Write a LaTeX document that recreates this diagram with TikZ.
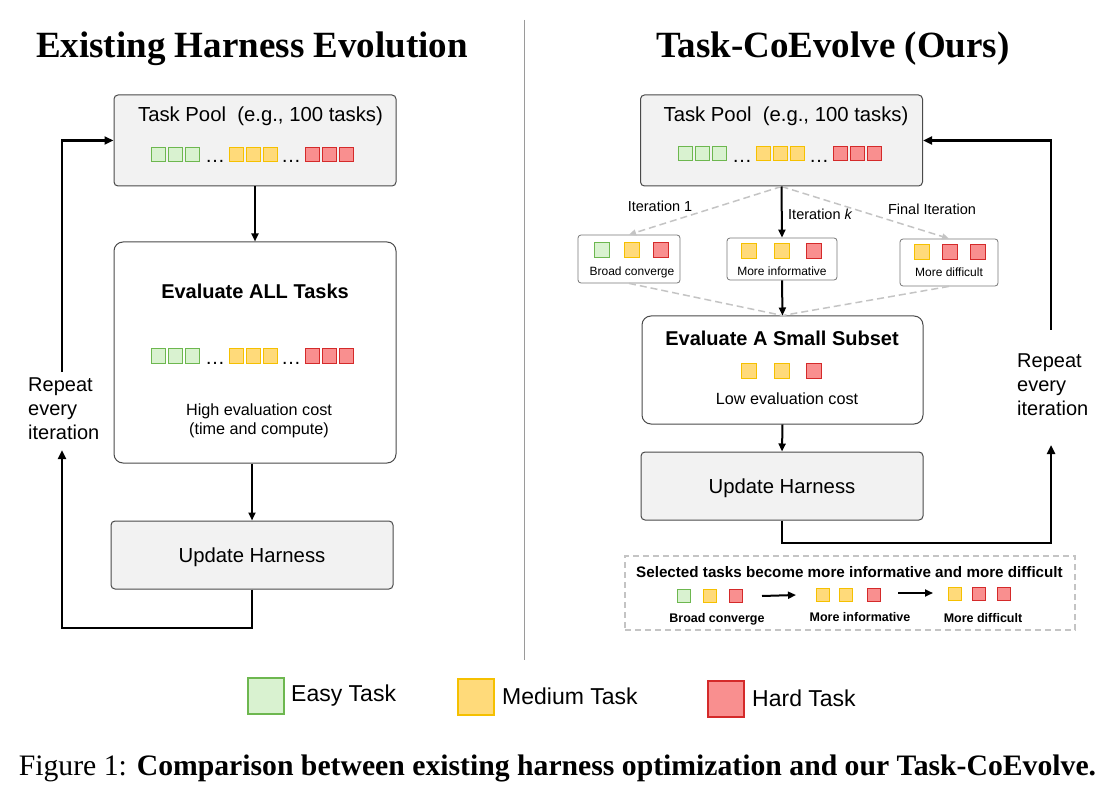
\documentclass[tikz,border=0pt]{standalone}
\usepackage{fontspec}
\setmainfont{Liberation Serif}
\setsansfont{Liberation Sans}
\usetikzlibrary{arrows.meta}
\definecolor{easyfill}{HTML}{D9F2D0}
\definecolor{easydraw}{HTML}{6DB74F}
\definecolor{medfill}{HTML}{FFDA7A}
\definecolor{meddraw}{HTML}{F5C000}
\definecolor{hardfill}{HTML}{F98F8F}
\definecolor{harddraw}{HTML}{D42A2A}
\definecolor{boxgray}{HTML}{F2F2F2}
\definecolor{boxline}{HTML}{4A4A4A}
\definecolor{dashgray}{HTML}{C4C4C4}
\definecolor{divgray}{HTML}{9A9A9A}
\newcommand{\myfs}[2]{\fontsize{#1}{#2}\selectfont}
\begin{document}
\begin{tikzpicture}[x=1pt,y=-1pt,
  every node/.style={inner sep=0pt, font=\sffamily},
  box/.style={draw=boxline, line width=1pt, rounded corners=4pt},
  graybox/.style={box, fill=boxgray},
  whitebox/.style={box, fill=white, rounded corners=9pt},
  smallbox/.style={draw=boxline!75, line width=0.8pt, rounded corners=3pt, fill=white},
  easy/.style={draw=easydraw, fill=easyfill, line width=1pt, minimum size=14pt},
  med/.style={draw=meddraw, fill=medfill, line width=1pt, minimum size=14pt},
  hard/.style={draw=harddraw, fill=hardfill, line width=1pt, minimum size=14pt},
  arr/.style={draw=black, line width=2pt, -{Triangle[length=8pt,width=7pt]}},
  looparr/.style={draw=black, line width=2.5pt, -{Triangle[length=9pt,width=8pt]}},
  dasharr/.style={draw=dashgray, line width=1.5pt, dash pattern=on 7pt off 4pt, -{Triangle[length=7pt,width=6pt]}},
  dashline/.style={draw=dashgray, line width=1.5pt, dash pattern=on 7pt off 4pt},
  titlefont/.style={font=\rmfamily\bfseries\myfs{37}{40}},
  boxtext/.style={font=\sffamily\myfs{20.3}{24}},
  boldtext/.style={font=\sffamily\bfseries\myfs{20}{24}},
  midtext/.style={font=\sffamily\myfs{16.2}{19}},
  smalltext/.style={font=\sffamily\myfs{12}{14}},
  itertext/.style={font=\sffamily\myfs{14.5}{17}},
  dotstext/.style={font=\sffamily\myfs{20}{24}},
  reptext/.style={font=\sffamily\myfs{20}{24}, align=left, anchor=north west},
]
\path[use as bounding box] (0,0) rectangle (1114,794);

% titles and divider
\node[titlefont, anchor=base] (ltitle) at (252,58) {Existing Harness Evolution};
\node[titlefont, anchor=base] (rtitle) at (833,58) {Task-CoEvolve (Ours)};
\draw[divgray, line width=1pt] (524,20) -- (524,660);

% ================= LEFT =================
\node[graybox, minimum width=282pt, minimum height=91pt] (lpool) at (255,140.5) {};
\node[boxtext, anchor=base] (lpoolt) at (260.5,122) {Task Pool\ \ (e.g., 100 tasks)};
\foreach \x [count=\i] in {158.5,175.5,192.5} \node[easy] (lpe\i) at (\x,154.5) {};
\foreach \x [count=\i] in {236.5,253.5,270.5} \node[med] (lpm\i) at (\x,154.5) {};
\foreach \x [count=\i] in {312.5,329.5,346.5} \node[hard] (lph\i) at (\x,154.5) {};
\node[dotstext, anchor=base] (lpd1) at (215,163) {…};
\node[dotstext, anchor=base] (lpd2) at (291,163) {…};

\node[whitebox, minimum width=282pt, minimum height=221pt] (leval) at (255,352.5) {};
\node[boldtext, anchor=base] (levalt) at (255,299) {Evaluate ALL Tasks};
\foreach \x [count=\i] in {158.5,175.5,192.5} \node[easy] (lee\i) at (\x,356) {};
\foreach \x [count=\i] in {236.5,253.5,270.5} \node[med] (lem\i) at (\x,356) {};
\foreach \x [count=\i] in {312.5,329.5,346.5} \node[hard] (leh\i) at (\x,356) {};
\node[dotstext, anchor=base] (led1) at (215,364) {…};
\node[dotstext, anchor=base] (led2) at (291,364) {…};
\node[midtext, anchor=base] (lcost1) at (259,415) {High evaluation cost};
\node[midtext, anchor=base] (lcost2) at (259,434.5) {(time and compute)};

\node[graybox, minimum width=282pt, minimum height=68pt] (lupd) at (252,555) {};
\node[boxtext, anchor=base] (lupdt) at (252,562) {Update Harness};

\draw[arr] (lpool.south) -- (leval.north);
\draw[arr] (leval.south -| lupd.north) -- (lupd.north);

\coordinate (lc2) at (62,628);
\coordinate (lc3) at (62,450);
\coordinate (lc4) at (62,372);
\draw[looparr] (lupd.south) |- (lc2) -- (lc3);
\draw[looparr] (lc4) |- (lpool.west);
\node[reptext] (lrep) at (28,378) {Repeat\\every\\iteration};

% ================= RIGHT =================
\node[graybox, minimum width=282pt, minimum height=91pt] (rpool) at (781.5,140.5) {};
\node[boxtext, anchor=base] (rpoolt) at (786,122) {Task Pool\ \ (e.g., 100 tasks)};
\foreach \x [count=\i] in {685.5,702.5,719.5} \node[easy] (rpe\i) at (\x,154) {};
\foreach \x [count=\i] in {763.5,780.5,797.5} \node[med] (rpm\i) at (\x,154) {};
\foreach \x [count=\i] in {840.5,857.5,874.5} \node[hard] (rph\i) at (\x,154) {};
\node[dotstext, anchor=base] (rpd1) at (742,162.5) {…};
\node[dotstext, anchor=base] (rpd2) at (819,162.5) {…};

% iteration boxes
\node[smallbox, minimum width=102pt, minimum height=48pt] (sb1) at (629,259) {};
\node[easy, minimum size=15pt] (s1a) at (602,250) {};
\node[med, minimum size=15pt] (s1b) at (632,250) {};
\node[hard, minimum size=15pt] (s1c) at (661,250) {};
\node[smalltext, anchor=base] (s1t) at (632,276) {Broad converge};

\node[smallbox, minimum width=110pt, minimum height=42pt] (sb2) at (782,259) {};
\node[med, minimum size=15pt] (s2a) at (749,251) {};
\node[med, minimum size=15pt] (s2b) at (782,251) {};
\node[hard, minimum size=15pt] (s2c) at (814,251) {};
\node[smalltext, anchor=base] (s2t) at (782,276) {More informative};

\node[smallbox, minimum width=98pt, minimum height=47pt] (sb3) at (949,262.5) {};
\node[med, minimum size=15pt] (s3a) at (922,252) {};
\node[hard, minimum size=15pt] (s3b) at (950,252) {};
\node[hard, minimum size=15pt] (s3c) at (978,252) {};
\node[smalltext, anchor=base] (s3t) at (949,277) {More difficult};

\node[itertext, anchor=base] (it1) at (660,212) {Iteration 1};
\node[itertext, anchor=base west] (itk) at (788,220) {Iteration \textit{k}};
\node[itertext, anchor=base] (itf) at (932,215) {Final Iteration};

\node[whitebox, minimum width=281pt, minimum height=108pt] (reval) at (782.5,370) {};
\node[boldtext, anchor=base] (revalt) at (782,345) {Evaluate A Small Subset};
\node[med, minimum size=15pt] (rem1) at (748.5,370.5) {};
\node[med, minimum size=15pt] (rem2) at (781.5,370.5) {};
\node[hard, minimum size=15pt] (reh1) at (813.5,370.5) {};
\node[midtext, anchor=base] (rcost) at (787,404) {Low evaluation cost};

\node[graybox, minimum width=282pt, minimum height=68pt] (rupd) at (782,486) {};
\node[boxtext, anchor=base] (rupdt) at (782,493) {Update Harness};

\draw[dasharr] (rpool.south) -- (sb1.north);
\draw[dasharr] (rpool.south) -- (sb3.north);
\draw[arr] (rpool.south) -- (sb2.north);
\draw[dashline] (sb1.south) -- (reval.north);
\draw[dashline] (sb3.south) -- (reval.north);
\draw[arr] (sb2.south) -- (reval.north);
\draw[arr] (reval.south) -- (rupd.north);

\coordinate (rc2) at (1051,543);
\coordinate (rc3) at (1051,445);
\coordinate (rc4) at (1051,330);
\draw[looparr] (rupd.south) |- (rc2) -- (rc3);
\draw[looparr] (rc4) |- (rpool.east);
\node[reptext] (rrep) at (1017,354) {Repeat\\every\\iteration};

% summary dashed box
\node[draw=dashgray, line width=2pt, dash pattern=on 6pt off 4pt, fill=white, minimum width=450pt, minimum height=74pt] (sumbox) at (850,593) {};
\node[font=\sffamily\bfseries\myfs{15.2}{18}, anchor=base] (sumt) at (849.5,577) {Selected tasks become more informative and more difficult};
\node[easy, minimum size=13pt] (b1a) at (684,596) {};
\node[med, minimum size=13pt] (b1b) at (710,596) {};
\node[hard, minimum size=13pt] (b1c) at (736,596) {};
\node[med, minimum size=13pt] (b2a) at (823,595) {};
\node[med, minimum size=13pt] (b2b) at (846,595) {};
\node[hard, minimum size=13pt] (b2c) at (874,595) {};
\node[med, minimum size=13pt] (b3a) at (955,594) {};
\node[hard, minimum size=13pt] (b3b) at (979,594) {};
\node[hard, minimum size=13pt] (b3c) at (1004,594) {};
\draw[arr] ([xshift=19pt]b1c.east) -- ([xshift=-20pt]b2a.west);
\draw[arr] ([xshift=17pt,yshift=2pt]b2c.east) -- ([xshift=-15pt,yshift=1pt]b3a.west);
\node[font=\sffamily\bfseries\myfs{12.5}{15}, anchor=base] (b1t) at (717,622) {Broad converge};
\node[font=\sffamily\bfseries\myfs{12.5}{15}, anchor=base] (b2t) at (860,621) {More informative};
\node[font=\sffamily\bfseries\myfs{12.5}{15}, anchor=base] (b3t) at (983,622) {More difficult};

% legend
\node[easy, line width=1.5pt, minimum size=36pt] (lge) at (266,696) {};
\node[med, line width=1.5pt, minimum size=36pt] (lgm) at (476,697) {};
\node[hard, line width=1.5pt, minimum size=36pt] (lgh) at (726,699) {};
\node[font=\sffamily\myfs{23}{26}, anchor=base west] (lget) at (291,701) {Easy Task};
\node[font=\sffamily\myfs{23}{26}, anchor=base west] (lgmt) at (502,704) {Medium Task};
\node[font=\sffamily\myfs{23}{26}, anchor=base west] (lght) at (752,706) {Hard Task};

% caption
\node[font=\rmfamily\myfs{29.7}{34}, anchor=base] (cap) at (557.5,775) {Figure 1: \textbf{Comparison between existing harness optimization and our Task-CoEvolve.}};
\end{tikzpicture}
\end{document}
